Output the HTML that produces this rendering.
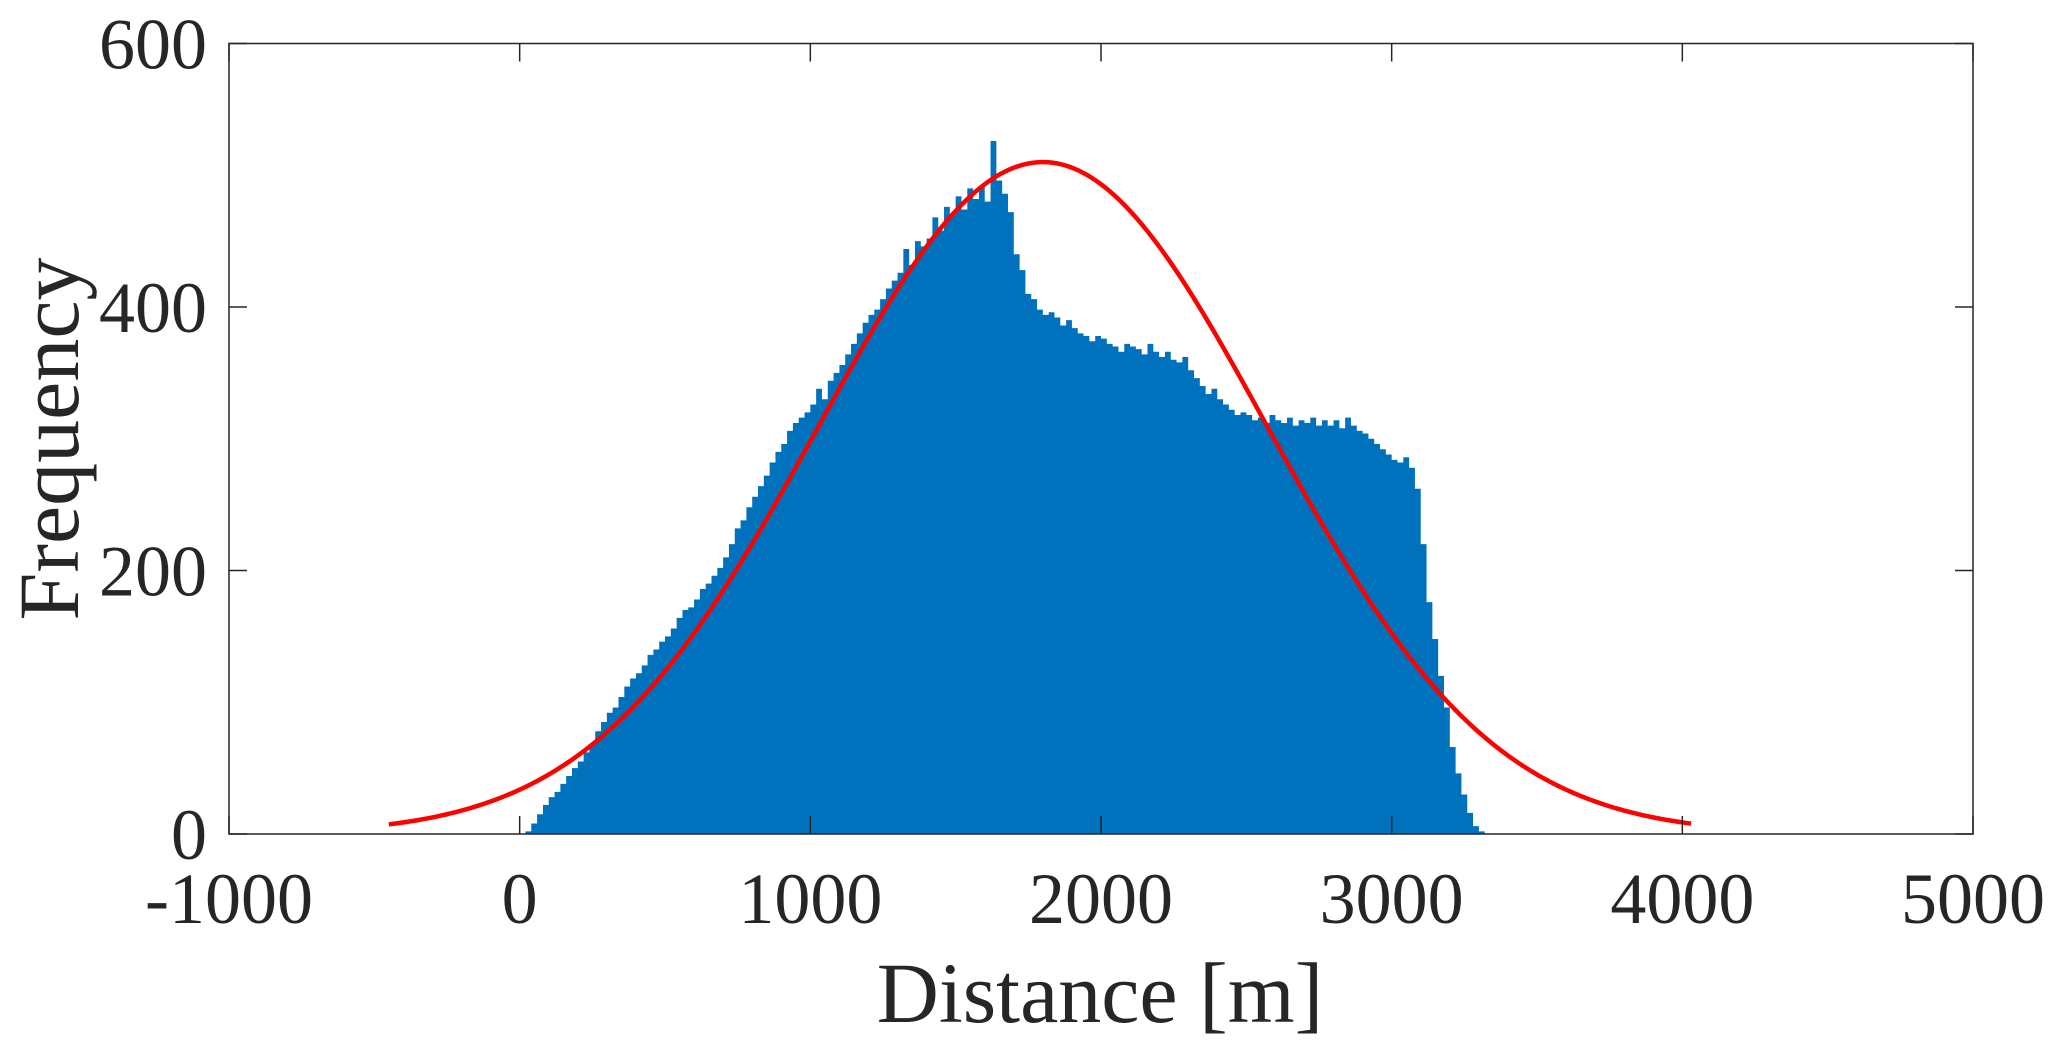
<!DOCTYPE html>
<html><head><meta charset="utf-8">
<style>
html,body{margin:0;padding:0;background:#fff;}
svg{display:block;}
text{font-family:"Liberation Serif","Times New Roman",serif;fill:#262626;}
</style></head>
<body>
<svg id="chart" width="2067" height="1050" viewBox="0 0 2067 1050" xmlns="http://www.w3.org/2000/svg">
<g id="bars"></g>
<path id="fit" fill="none" stroke="#ff0000" stroke-width="4.5"/>
<g id="axes"></g>
<text x="1100" y="1022" font-size="86" text-anchor="middle">Distance [m]</text>
<text x="0" y="0" font-size="86" text-anchor="middle" transform="translate(78,439) rotate(-90)">Frequency</text>
</svg>
<script>
const binStart = 20;
const binWidth = 20;
const counts = [
2,8,15,22,
28,32,38,44,50,
55,62,68,78,85,
92,96,104,112,118,
122,128,136,140,146,
150,156,164,170,172,
178,186,190,196,202,
210,220,232,238,248,
256,264,272,282,290,
296,306,312,316,320,
326,338,330,344,350,
356,364,372,380,388,
394,398,406,414,420,
426,444,432,450,446,
452,468,458,476,470,
484,474,490,482,492,
480,526,496,486,472,
440,428,410,406,398,
394,396,392,386,390,
384,380,378,374,378,
376,372,370,366,372,
370,368,364,372,366,
362,366,360,358,362,
352,346,340,334,338,
330,326,322,318,320,
318,314,316,312,318,
314,312,316,310,314,
312,316,310,314,310,
314,308,316,310,306,
304,300,296,292,288,
284,282,286,278,262,
220,176,148,120,96,
66,46,30,16,6,
2];
const fitMean = [1800];
const fitSigma = [772];
const fitPeak = [510];
const fitRange = [-450, 4030];
const xTicks = [-1000,0,1000,2000,3000,4000,5000];
const xTickLabels = ["-1000","0","1000","2000","3000","4000","5000"];
const yTicks = [0,200,400,600];
const yTickLabels = ["0","200","400","600"];

const L=229, R=1973, T=43.5, B=834;
const xMin=-1000, xMax=5000, yMin=0, yMax=600;
const sx = v => L + (v-xMin)/(xMax-xMin)*(R-L);
const sy = v => B - (v-yMin)/(yMax-yMin)*(B-T);
const NS="http://www.w3.org/2000/svg";

const bars=document.getElementById('bars');
let d='';
counts.forEach((c,i)=>{
  const x0=sx(binStart+i*binWidth), x1=sx(binStart+(i+1)*binWidth);
  d+=`M${x0.toFixed(2)},${B}V${sy(c).toFixed(2)}H${x1.toFixed(2)}V${B}Z`;
});
const bp=document.createElementNS(NS,'path');


bp.setAttribute('d',d);
bp.setAttribute('fill','#0072bd');
bars.appendChild(bp);

let fd='';
const mu=fitMean[0], sg=fitSigma[0], pk=fitPeak[0];
for(let k=0;k<=300;k++){
  const x=fitRange[0]+(fitRange[1]-fitRange[0])*k/300;
  const y=pk*Math.exp(-((x-mu)**2)/(2*sg*sg));
  fd+=(k?'L':'M')+sx(x).toFixed(2)+','+sy(y).toFixed(2);
}
document.getElementById('fit').setAttribute('d',fd);

const axes=document.getElementById('axes');
const frame=document.createElementNS(NS,'rect');


frame.setAttribute('x',L);frame.setAttribute('y',T);
frame.setAttribute('width',R-L);frame.setAttribute('height',B-T);
frame.setAttribute('fill','none');frame.setAttribute('stroke','#262626');frame.setAttribute('stroke-width','1.5');
axes.appendChild(frame);
const tl=18;
xTicks.forEach((v,i)=>{
  const x=sx(v);
  const t=document.createElementNS(NS,'path');
  
  
  t.setAttribute('d',`M${x},${B}V${B-tl}M${x},${T}V${T+tl}`);
  t.setAttribute('stroke','#262626');t.setAttribute('stroke-width','1.5');
  axes.appendChild(t);
  const lb=document.createElementNS(NS,'text');
  
  
  lb.setAttribute('x',x);lb.setAttribute('y',923);
  lb.setAttribute('font-size','72');lb.setAttribute('text-anchor','middle');
  lb.textContent=xTickLabels[i];
  axes.appendChild(lb);
});
yTicks.forEach((v,i)=>{
  const y=sy(v);
  const t=document.createElementNS(NS,'path');
  
  
  t.setAttribute('d',`M${L},${y}H${L+tl}M${R},${y}H${R-tl}`);
  t.setAttribute('stroke','#262626');t.setAttribute('stroke-width','1.5');
  axes.appendChild(t);
  const lb=document.createElementNS(NS,'text');
  
  
  lb.setAttribute('x',207);lb.setAttribute('y',y+25);
  lb.setAttribute('font-size','72');lb.setAttribute('text-anchor','end');
  lb.textContent=yTickLabels[i];
  axes.appendChild(lb);
});
</script>
</body></html>
